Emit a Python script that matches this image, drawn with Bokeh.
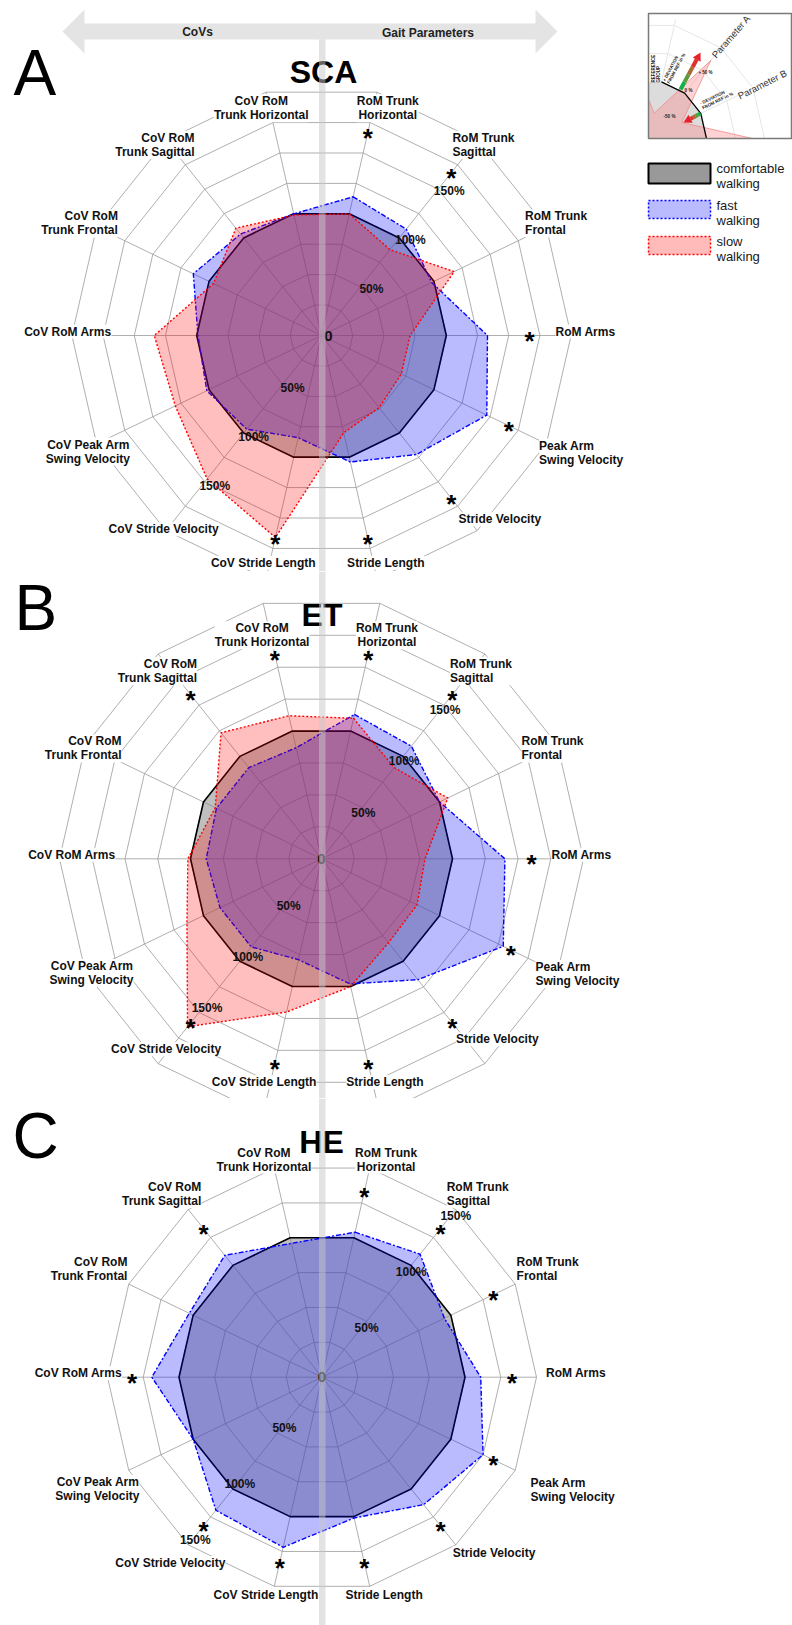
import math
import numpy as np
from bokeh.plotting import figure
from bokeh.models import Range1d
from bokeh.layouts import column
from bokeh.embed import file_html
from bokeh.resources import INLINE
from bokeh.core.properties import value

# ---------------- data ----------------
axes = ["RoM Trunk Horizontal", "RoM Trunk Sagittal", "RoM Trunk Frontal", "RoM Arms",
        "Peak Arm Swing Velocity", "Stride Velocity", "Stride Length",
        "CoV Stride Length", "CoV Stride Velocity", "CoV Peak Arm Swing Velocity",
        "CoV RoM Arms", "CoV RoM Trunk Frontal", "CoV RoM Trunk Sagittal",
        "CoV RoM Trunk Horizontal"]
axis_labels = ["RoM Trunk\nHorizontal", "RoM Trunk\nSagittal", "RoM Trunk\nFrontal", "RoM Arms",
               "Peak Arm\nSwing Velocity", "Stride Velocity", "Stride Length",
               "CoV Stride Length", "CoV Stride Velocity", "CoV Peak Arm\nSwing Velocity",
               "CoV RoM Arms", "CoV RoM\nTrunk Frontal", "CoV RoM\nTrunk Sagittal",
               "CoV RoM\nTrunk Horizontal"]
tick_values = [50, 100, 150]
tick_labels = ["50%", "100%", "150%"]

sca_comfortable = [100, 100, 100, 100, 100, 100, 100, 100, 100, 100, 100, 100, 100, 100]
sca_fast = [114, 109, 98, 133, 147, 122, 104, 84, 96, 102, 99, 114, 104, 100]
sca_slow = [100, 88, 118, 71, 71, 74, 80, 166, 147, 130, 134, 96, 110, 99]
sca_sig = [1, 1, 0, 1, 1, 1, 1, 1, 0, 0, 0, 0, 0, 0]

et_comfortable = [100, 100, 100, 100, 100, 100, 100, 100, 100, 100, 100, 100, 100, 100]
et_fast = [113, 110, 100, 140, 154, 118, 98, 79, 86, 86, 88, 89, 89, 87]
et_slow = [110, 89, 107, 79, 81, 82, 100, 120, 164, 114, 102, 90, 123, 112]
et_sig = [1, 1, 0, 1, 1, 1, 1, 1, 1, 0, 0, 0, 1, 1]

he_comfortable = [100, 100, 100, 100, 100, 100, 100, 100, 100, 100, 100, 100, 100, 100]
he_fast = [104, 110, 95, 111, 125, 114, 101, 122, 119, 100, 119, 103, 109, 96]
he_sig = [1, 1, 1, 1, 1, 1, 1, 1, 1, 0, 1, 0, 1, 0]

legend_names = ["comfortable\nwalking", "fast\nwalking", "slow\nwalking"]

# ---------------- layout / style ----------------
FONT = value("Liberation Sans")
PAGE_W = 792
label_dx = [16, -10, 0, 8, 14, -4, 14, -8, 38, 12, 16, 0, 14, -10]
label_dy = [7, 0, 0, -4, 5, 0, 0, 0, 10, 4, -4, 0, 0, 7]

STYLES = {
    "comfortable": dict(fill_color="#808080", fill_alpha=0.5, line_color="black", line_width=1.6),
    "fast": dict(fill_color="#0000ff", fill_alpha=0.27, line_color="#0000ff", line_width=1.4,
                 line_dash="5 2 2 2"),
    "slow": dict(fill_color="#ff0000", fill_alpha=0.25, line_color="#ff0000", line_width=1.4,
                 line_dash="2 2"),
}

panels = [
    dict(title="SCA", letter="A", top=0, bottom=571, cx=321, cy=335, scale=124.8, rings=8,
         lab_r=226, star_r=208, zero_dx=7, title_xy=(323, 71.5), letter_xy=(13, 72), bar_top=39,
         tick_ur=(11, 2), tick_ll=(10, 4),
         series=[("comfortable", sca_comfortable), ("fast", sca_fast), ("slow", sca_slow)], sig=sca_sig),
    dict(title="ET", letter="B", top=571, bottom=1098, cx=321, cy=858.3, scale=131, rings=8,
         lab_r=222, star_r=210, zero_dx=0, title_xy=(321.5, 614), letter_xy=(14, 607.5), bar_top=571,
         tick_ur=(1, 5), tick_ll=(8, -4),
         series=[("comfortable", et_comfortable), ("fast", et_fast), ("slow", et_slow)], sig=et_sig),
    dict(title="HE", letter="C", top=1098, bottom=1625, cx=321.5, cy=1376.7, scale=143, rings=6,
         lab_r=216, star_r=190, zero_dx=0, title_xy=(321, 1141.7), letter_xy=(12, 1135), bar_top=1098,
         tick_ur=(0, 7), tick_ll=(7, -5),
         series=[("comfortable", he_comfortable), ("fast", he_fast)], sig=he_sig),
]

theta_deg = 77.142857 - 25.714286 * np.arange(14)
theta = np.radians(theta_deg)


def txt(p, x, y, text, size, bold=False, align="left", baseline="middle", color="#111111",
        angle=0.0, bg=None, xo=0, yo=0, lh=1.0):
    kw = dict(text_font=FONT, text_font_size=f"{size}px",
              text_font_style="bold" if bold else "normal",
              text_align=align, text_baseline=baseline, text_color=color, angle=angle,
              x_offset=xo, y_offset=yo, text_line_height=lh)
    if bg:
        kw["background_fill_color"] = bg
    p.text(x=[x], y=[y], text=[text], **kw)


def make_panel(cfg, header=False):
    cx, cy, s = cfg["cx"], cfg["cy"], cfg["scale"]
    k = s / 100.0
    top, bot = cfg["top"], cfg["bottom"]

    def P(xp, yp):
        return (xp - cx) / k, (cy - yp) / k

    p = figure(width=PAGE_W, height=bot - top,
               x_range=Range1d((0 - cx) / k, (PAGE_W - cx) / k),
               y_range=Range1d((cy - bot) / k, (cy - top) / k),
               output_backend="svg", toolbar_location=None,
               x_axis_location=None, y_axis_location=None, min_border=0,
               outline_line_color=None, background_fill_color="white",
               border_fill_color="white")
    p.grid.visible = False

    # grid
    n = cfg["rings"]
    thc = np.append(theta, theta[0])
    xs, ys = [], []
    for j in range(1, n + 1):
        xs.append(list(25 * j * np.cos(thc)))
        ys.append(list(25 * j * np.sin(thc)))
    rmax = 25 * n
    for t in theta:
        xs.append([0, rmax * math.cos(t)])
        ys.append([0, rmax * math.sin(t)])
    p.multi_line(xs, ys, line_color="#9a9a9a", line_width=0.8)

    # data polygons
    for key, vals in cfg["series"]:
        v = np.array(vals, dtype=float)
        p.patch(list(v * np.cos(theta)), list(v * np.sin(theta)), **STYLES[key])

    # axis labels
    R = cfg["lab_r"] / k
    for i, lab in enumerate(axis_labels):
        c, sn = math.cos(theta[i]), math.sin(theta[i])
        align = "left" if c > 0.25 else ("right" if c < -0.25 else "center")
        base = "bottom" if sn > 0.25 else ("top" if sn < -0.25 else "middle")
        txt(p, R * c, R * sn, lab, 12, bold=True, align=align, baseline=base,
            bg="white", xo=label_dx[i], yo=label_dy[i], lh=1.0)

    # significance stars
    Rs = cfg["star_r"] / k
    for i, f in enumerate(cfg["sig"]):
        if f:
            txt(p, Rs * math.cos(theta[i]), Rs * math.sin(theta[i]), "*", 26, bold=True,
                align="center", baseline="middle", yo=5.5, color="black")

    # ring tick labels
    for tv, tl in zip(tick_values, tick_labels):
        for ang, off in ((math.radians(51.428571), cfg["tick_ur"]),
                         (math.radians(-128.571429), cfg["tick_ll"])):
            txt(p, tv * math.cos(ang), tv * math.sin(ang), tl, 12, bold=True,
                align="center", baseline="middle", xo=off[0], yo=off[1])
    txt(p, 0, 0, "0", 15, bold=True, align="center", baseline="middle",
        xo=cfg["zero_dx"], color="#111111")

    # title and panel letter
    tx, ty = P(*cfg["title_xy"])
    txt(p, tx, ty, cfg["title"], 32, bold=True, align="center", baseline="middle",
        color="#000000")
    lx, ly = P(*cfg["letter_xy"])
    txt(p, lx, ly, cfg["letter"], 64, align="left", baseline="middle", color="#000000")

    if header:
        # double arrow
        pts = [(62, 31), (84, 9), (84, 23), (535, 23), (535, 9), (557, 31), (535, 53),
               (535, 39), (84, 39), (84, 53)]
        ax_, ay_ = zip(*[P(a, b) for a, b in pts])
        p.patch(list(ax_), list(ay_), fill_color="#e4e4e4", line_color=None)
        x1, y1 = P(197, 31.5)
        txt(p, x1, y1, "CoVs", 12, bold=True, align="center", baseline="middle", color="#222222")
        x2, y2 = P(427.5, 32)
        txt(p, x2, y2, "Gait Parameters", 12, bold=True, align="center", baseline="middle",
            color="#222222")

        # legend
        leg_fill = ["#999999", "#babaff", "#ffbaba"]
        leg_line = ["black", "#0000ff", "#ff0000"]
        leg_dash = ["solid", "2 2", "2 2"]
        leg_w = [2, 1.5, 1.5]
        leg_top = [163, 200, 236]
        leg_h = [20, 18, 18]
        for j in range(3):
            l, t = P(648, leg_top[j])
            r_, b = P(710, leg_top[j] + leg_h[j])
            p.quad(left=[l], right=[r_], top=[t], bottom=[b], fill_color=leg_fill[j],
                   line_color=leg_line[j], line_width=leg_w[j], line_dash=leg_dash[j])
            lx2, ly2 = P(716, leg_top[j] - 3)
            txt(p, lx2, ly2, legend_names[j], 13, align="left", baseline="top",
                color="#1a1a1a", lh=1.05)

        # inset schematic
        O = (648, 138)

        def Q(a, r):
            ar = math.radians(a)
            return (O[0] + r * math.cos(ar), O[1] - r * math.sin(ar))

        ia = [0, 25.714, 51.429, 77.143]
        gx, gy = [], []
        for r in (29, 87, 116):
            pts = [Q(a, r) for a in ia] + [(648, 138 - r * 0.975)]
            cc = [P(*q) for q in pts]
            gx.append([c_[0] for c_ in cc])
            gy.append([c_[1] for c_ in cc])
        for a in ia[1:]:
            cc = [P(*O), P(*Q(a, 122))]
            gx.append([c_[0] for c_ in cc])
            gy.append([c_[1] for c_ in cc])
        p.multi_line(gx, gy, line_color="#e6e6e6", line_width=1)

        gpts = [O] + [Q(a, 58) for a in ia] + [(648, 138 - 58 * 0.975)]
        cc = [P(*q) for q in gpts]
        p.patch([c_[0] for c_ in cc], [c_[1] for c_ in cc], fill_color="#dcdcdc",
                line_color=None)
        ppts = [O, Q(0, 104), Q(25.714, 37), Q(51.429, 100), Q(77.143, 26), (648, 99)]
        cc = [P(*q) for q in ppts]
        p.patch([c_[0] for c_ in cc], [c_[1] for c_ in cc], fill_color="#ff8080",
                fill_alpha=0.35, line_color="#f08a8a", line_width=0.8)
        bl = [P(*Q(a, 58)) for a in reversed(ia)]
        p.line([c_[0] for c_ in bl], [c_[1] for c_ in bl], line_color="black", line_width=1.3)

        def arrow(base, tip):
            dx, dy = tip[0] - base[0], tip[1] - base[1]
            L = math.hypot(dx, dy)
            ux, uy = dx / L, dy / L
            hb = (tip[0] - 8 * ux, tip[1] - 8 * uy)
            cols = ["#12b04a", "#5c9a3e", "#a86a34", "#e0302a"]
            for m in range(4):
                a0 = (base[0] + (hb[0] - base[0]) * m / 4, base[1] + (hb[1] - base[1]) * m / 4)
                a1 = (base[0] + (hb[0] - base[0]) * (m + 1) / 4,
                      base[1] + (hb[1] - base[1]) * (m + 1) / 4)
                q0, q1 = P(*a0), P(*a1)
                p.segment(x0=[q0[0]], y0=[q0[1]], x1=[q1[0]], y1=[q1[1]], line_color=cols[m],
                          line_width=4)
            px_, py_ = -uy, ux
            tri = [tip, (hb[0] + 4.5 * px_, hb[1] + 4.5 * py_), (hb[0] - 4.5 * px_, hb[1] - 4.5 * py_)]
            cc2 = [P(*q) for q in tri]
            p.patch([c_[0] for c_ in cc2], [c_[1] for c_ in cc2], fill_color="#e8202a",
                    line_color=None)

        arrow((680, 89), (700, 52))
        arrow((700, 113), (683, 122))

        # box
        l, t = P(648, 13)
        r_, b = P(791, 138)
        p.quad(left=[l], right=[r_], top=[t], bottom=[b], fill_color=None,
               line_color="#7a7a7a", line_width=1.5)

        small = [("REFERENCE\nGROUP", (650, 82), 90, "left", "top"),
                 ("+ DEVIATION\nFROM REF in %", (670, 84), 62, "left", "bottom"),
                 ("- DEVIATION\nFROM REF in %", (703, 110), 26, "left", "bottom")]
        for s_, (xa, ya), ang, al, bs in small:
            qx, qy = P(xa, ya)
            txt(p, qx, qy, s_, 4.5, bold=True, align=al, baseline=bs, angle=math.radians(ang),
                color="#222222")
        for s_, (xa, ya) in [("0 %", (688, 90)), ("+ 50 %", (705, 71.5)), ("-50 %", (669, 116))]:
            qx, qy = P(xa, ya)
            txt(p, qx, qy, s_, 4.5, bold=True, align="center", baseline="middle",
                color="#222222")
        qx, qy = P(713, 56)
        txt(p, qx, qy, "Parameter A", 9.5, align="left", baseline="middle",
            angle=math.radians(49), color="#333333")
        qx, qy = P(738, 96)
        txt(p, qx, qy, "Parameter B", 9.5, align="left", baseline="middle",
            angle=math.radians(27), color="#333333")

    # vertical centre bar
    l, t = P(318.5, cfg["bar_top"])
    r_, b = P(325, bot)
    p.quad(left=[l], right=[r_], top=[t], bottom=[b], fill_color="#c8c8c8", fill_alpha=0.5,
           line_color=None)
    return p


figs = [make_panel(cfg, header=(i == 0)) for i, cfg in enumerate(panels)]
layout = column(*figs, spacing=0)
open("out.html", "w").write(file_html(layout, INLINE))
